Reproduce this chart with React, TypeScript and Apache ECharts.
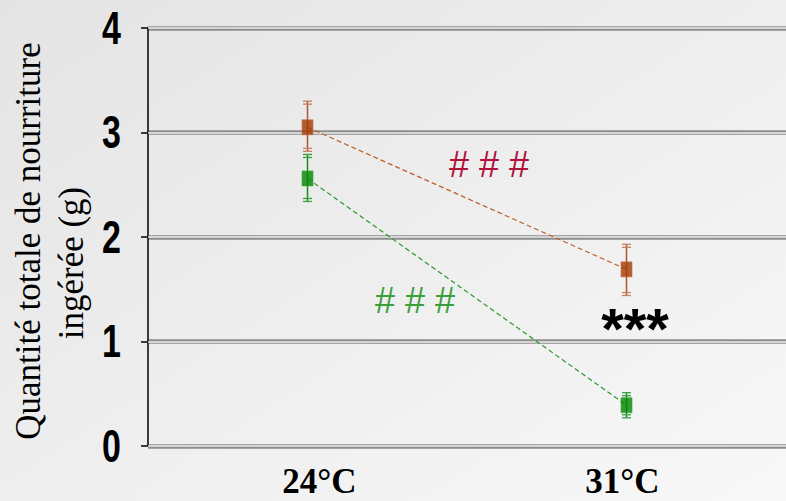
import React, { useEffect, useRef } from "react";
import * as echarts from "echarts";

const categories = ["24°C", "31°C"];
const yTicks = [0, 1, 2, 3, 4];
const orangeMean = [3.05, 1.69];
const orangeLow = [2.82, 1.44];
const orangeHigh = [3.3, 1.93];
const greenMean = [2.56, 0.39];
const greenLow = [2.34, 0.27];
const greenHigh = [2.79, 0.51];

const ORANGE = "#a33a00";
const ORANGE_LINE = "#c05a2a";
const ORANGE_BAR = "#b0522a";
const ORANGE_CAP = "#c8805f";
const GREEN = "#008600";
const GREEN_LINE = "#2a9a2a";
const GREEN_BAR = "#1a8f1a";
const GREEN_CAP = "#3aa03a";

const SERIF = "'Liberation Serif', 'Times New Roman', serif";

function errSeries(name: string, low: number[], high: number[], barColor: string, capColor: string) {
  return {
    type: "custom",
    name,
    z: 3,
    data: low.map((l, i) => [i, l, high[i]]),
    renderItem: (params: any, api: any) => {
      const x = api.value(0);
      const lo = api.coord([x, api.value(1)]);
      const hi = api.coord([x, api.value(2)]);
      const cx = lo[0];
      const w = 4.5;
      const cap = { stroke: capColor, lineWidth: 1.3 };
      const bar = { stroke: barColor, lineWidth: 1.5 };
      return {
        type: "group",
        children: [
          { type: "line", shape: { x1: cx, y1: lo[1], x2: cx, y2: hi[1] }, style: bar },
          { type: "line", shape: { x1: cx - w, y1: lo[1], x2: cx + w, y2: lo[1] }, style: cap },
          { type: "line", shape: { x1: cx - w, y1: lo[1] - 3, x2: cx + w, y2: lo[1] - 3 }, style: cap },
          { type: "line", shape: { x1: cx - w, y1: hi[1], x2: cx + w, y2: hi[1] }, style: cap },
          { type: "line", shape: { x1: cx - w, y1: hi[1] + 3, x2: cx + w, y2: hi[1] + 3 }, style: cap },
        ],
      };
    },
  };
}

export default function App() {
  const ref = useRef<HTMLDivElement>(null);
  useEffect(() => {
    const chart = echarts.init(ref.current!, null, { renderer: "svg" });
    const xLabelStyle = {
      fontSize: 35,
      lineHeight: 34,
      fontWeight: "bold",
      fontFamily: SERIF,
      color: "#000",
    };
    chart.setOption({
      animation: false,
      backgroundColor: new echarts.graphic.LinearGradient(0, 0, 1, 1, [
        { offset: 0, color: "#e4e4e4" },
        { offset: 1, color: "#f8f8f8" },
      ]),
      grid: { left: 148, right: 0, top: 28, bottom: 55 },
      xAxis: {
        type: "category",
        data: categories,
        boundaryGap: true,
        axisLine: { show: false },
        axisTick: { show: false },
        axisLabel: {
          margin: 18,
          formatter: (v: string, i: number) => (i === 0 ? `{a|${v}}` : `{b|${v}}`),
          rich: {
            a: { ...xLabelStyle, padding: [0, 0, 0, 24] },
            b: { ...xLabelStyle, padding: [0, 8, 0, 0] },
          },
        },
      },
      yAxis: [
        {
          type: "value",
          min: yTicks[0],
          max: yTicks[yTicks.length - 1],
          interval: 1,
          z: 2,
          axisLine: { show: true, lineStyle: { color: "#000", width: 1.5 } },
          axisTick: { show: true, length: 7, lineStyle: { color: "#000", width: 1.5 } },
          axisLabel: { show: false },
          splitLine: { show: true, lineStyle: { color: "#8c8c8c", width: 4.5 } },
        },
        {
          type: "value",
          position: "left",
          min: yTicks[0],
          max: yTicks[yTicks.length - 1],
          interval: 1,
          z: 3,
          axisLine: { show: false },
          axisTick: { show: false },
          axisLabel: { show: false },
          splitLine: { show: true, lineStyle: { color: "#eeeeee", width: 1.5 } },
        },
      ],
      series: [
        {
          type: "line",
          data: orangeMean,
          symbol: "none",
          lineStyle: { color: ORANGE_LINE, width: 1.2, type: [5, 3] },
          z: 4,
        },
        {
          type: "line",
          data: greenMean,
          symbol: "none",
          lineStyle: { color: GREEN_LINE, width: 1.2, type: [5, 3] },
          z: 4,
        },
        errSeries("oe", orangeLow, orangeHigh, ORANGE_BAR, ORANGE_CAP),
        errSeries("ge", greenLow, greenHigh, GREEN_BAR, GREEN_CAP),
        {
          type: "scatter",
          data: orangeMean.map((v, i) => [i, v]),
          symbol: "rect",
          symbolSize: [11, 15],
          itemStyle: { color: ORANGE, borderColor: "#c87050", borderWidth: 0.8 },
          z: 5,
        },
        {
          type: "scatter",
          data: greenMean.map((v, i) => [i, v]),
          symbol: "rect",
          symbolSize: [11, 15],
          itemStyle: { color: GREEN, borderColor: "#40a840", borderWidth: 0.8 },
          z: 5,
        },
      ],
    });

    const yLabelGraphics = yTicks.map((v) => ({
      type: "text",
      x: 121,
      y: chart.convertToPixel({ yAxisIndex: 0 }, v) as number,
      scaleX: 0.74,
      style: {
        text: String(v),
        font: "bold 46px 'Liberation Sans', Arial, sans-serif",
        fill: "#000",
        align: "right",
        verticalAlign: "middle",
      },
    }));

    chart.setOption({
      graphic: [
        {
          type: "text",
          x: 28,
          y: 241,
          rotation: Math.PI / 2,
          style: {
            text: "Quantité totale de nourriture",
            font: "35px 'Liberation Serif', 'Times New Roman', serif",
            fill: "#000",
            align: "center",
            verticalAlign: "middle",
          },
        },
        {
          type: "text",
          x: 71,
          y: 263,
          rotation: Math.PI / 2,
          style: {
            text: "ingérée (g)",
            font: "35px 'Liberation Serif', 'Times New Roman', serif",
            fill: "#000",
            align: "center",
            verticalAlign: "middle",
          },
        },
        {
          type: "text",
          x: 489,
          y: 164,
          style: {
            text: "# # #",
            font: "36px 'Liberation Sans', Arial, sans-serif",
            fill: "#b0103a",
            align: "center",
            verticalAlign: "middle",
          },
        },
        {
          type: "text",
          x: 415,
          y: 300,
          style: {
            text: "# # #",
            font: "36px 'Liberation Sans', Arial, sans-serif",
            fill: "#3a9e3a",
            align: "center",
            verticalAlign: "middle",
          },
        },
        {
          type: "text",
          x: 635,
          y: 328,
          style: {
            text: "***",
            font: "bold 58px 'Liberation Sans', Arial, sans-serif",
            fill: "#000",
            align: "center",
            verticalAlign: "middle",
          },
        },
        ...yLabelGraphics,
      ],
    });
    return () => chart.dispose();
  }, []);
  return (
    <div
      ref={ref}
      style={{ position: "absolute", left: 0, top: 0, width: 786, height: 501 }}
    />
  );
}
